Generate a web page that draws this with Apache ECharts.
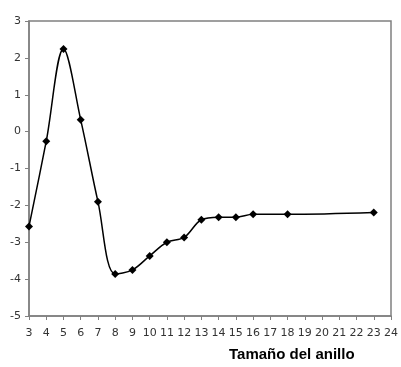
<!DOCTYPE html>
<html><head><meta charset="utf-8">
<script src="https://cdn.jsdelivr.net/npm/echarts@6/dist/echarts.min.js"></script>
<style>html,body{margin:0;padding:0;background:#fff}#c{width:401px;height:367px}</style>
</head><body><div id="c"></div>
<script>
var ringSizes = [3,4,5,6,7,8,9,10,11,12,13,14,15,16,18,23];
var values = [-2.57,-0.26,2.24,0.32,-1.9,-3.86,-3.75,-3.37,-3.0,-2.87,-2.39,-2.32,-2.32,-2.24,-2.24,-2.19];
var xTitle = 'Tamaño del anillo';

var chart = echarts.init(document.getElementById('c'), null, {renderer:'canvas'});
chart.setOption({
  animation:false,
  backgroundColor:'#fff',
  grid:{left:29,right:9,top:21,bottom:51,show:true,borderColor:'#808080',borderWidth:1.5},
  xAxis:{type:'value',min:3,max:24,interval:1,
    axisLine:{show:true,onZero:false,lineStyle:{color:'#808080',width:1.5}},
    axisTick:{show:true,inside:false,length:4,lineStyle:{color:'#808080'}},
    axisLabel:{color:'#333',fontFamily:'DejaVu Sans',fontSize:11,margin:12},
    splitLine:{show:false}},
  yAxis:{type:'value',min:-5,max:3,interval:1,
    axisLine:{show:true,lineStyle:{color:'#808080',width:1.5}},
    axisTick:{show:true,inside:false,length:4,lineStyle:{color:'#808080'}},
    axisLabel:{color:'#333',fontFamily:'DejaVu Sans',fontSize:11,margin:8},
    splitLine:{show:false}},
  title:{text:xTitle,left:229,top:347,padding:0,textStyle:{fontFamily:'Liberation Sans',fontWeight:'bold',fontSize:15,color:'#000'}},
  series:[{type:'line',data:ringSizes.map(function(x,i){return [x,values[i]];}),
    smooth:0.35,symbol:'diamond',symbolSize:8,
    itemStyle:{color:'#000'},lineStyle:{color:'#000',width:1.5}}]
});
</script></body></html>
